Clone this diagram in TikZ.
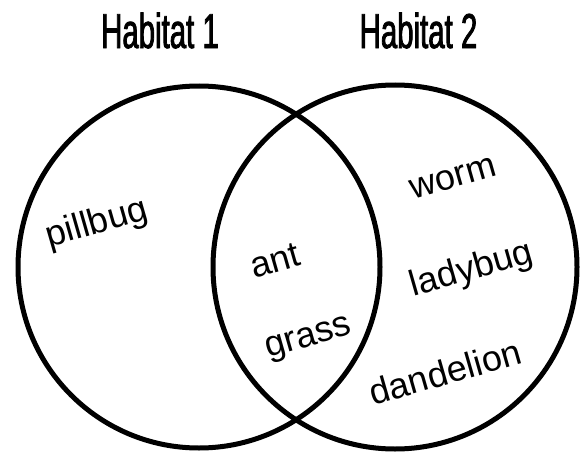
\documentclass[tikz,border=0pt]{standalone}
\usepackage{fontspec}
\setmainfont{Liberation Sans}
\newfontfamily\titlefont[FakeStretch=0.6,FakeBold=1.6]{Liberation Sans}
\begin{document}
\begin{tikzpicture}[x=1pt,y=-1pt,
  ring/.style={draw=black,line width=5pt},
  title/.style={font=\titlefont\fontsize{49}{52}\selectfont,inner sep=0pt},
  item/.style={font=\fontsize{36}{40}\selectfont,inner sep=0pt,rotate=16}]
\useasboundingbox (0,0) rectangle (586,452);
\node[ring,circle,minimum size=362pt,inner sep=0pt] (c1) at (199,267) {};
\node[ring,circle,minimum size=364pt,inner sep=0pt] (c2) at (395,267) {};
\node[title] (h1) at (160,30.5) {Habitat 1};
\node[title] (h2) at (418.5,30.5) {Habitat 2};
\node[item] (pillbug) at (97,224) {pillbug};
\node[item] (ant) at (275,261) {ant};
\node[item] (grass) at (309,340) {grass};
\node[item] (worm) at (453,178) {worm};
\node[item] (ladybug) at (472,270) {ladybug};
\node[item] (dandelion) at (445,372) {dandelion};
\end{tikzpicture}
\end{document}
